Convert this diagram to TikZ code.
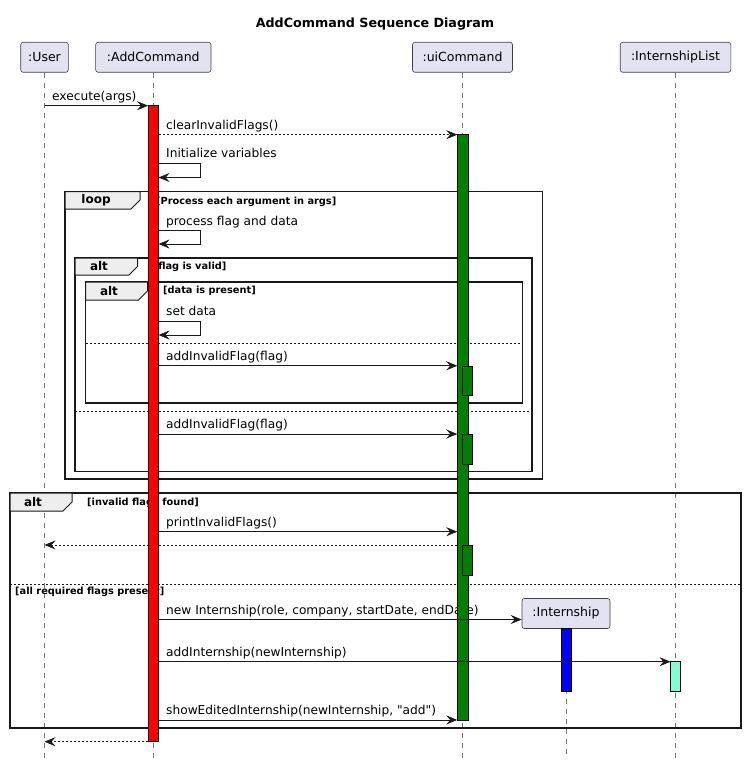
\documentclass[tikz,border=0pt]{standalone}
\usepackage{fontspec}
\setmainfont{DejaVu Sans}
\usetikzlibrary{arrows.meta,backgrounds}

\definecolor{partfill}{HTML}{E2E2F0}
\definecolor{tabfill}{HTML}{EEEEEE}
\definecolor{actgreen}{HTML}{008000}
\definecolor{actaqua}{HTML}{7FFFD4}

\tikzset{
	part/.style={draw=black!75, fill=partfill, rounded corners=2.5pt, line width=0.6pt, inner sep=0pt, minimum height=30pt, font=\fontsize{12.5}{15}\selectfont},
	bar/.style={draw=black, line width=0.5pt, inner sep=0pt, outer sep=0pt, minimum width=10.5pt},
	life/.style={draw=black!55, line width=0.6pt, dash pattern=on 5pt off 5pt},
	msg/.style={draw=black!90, line width=0.6pt, -{Stealth[length=11pt,width=9pt,inset=4pt]}},
	ret/.style={msg, dash pattern=on 2pt off 2pt},
	lbl/.style={anchor=base west, inner sep=0pt, xshift=7.5pt, yshift=5.5pt, font=\fontsize{12.2}{14}\selectfont},
	frame/.style={draw=black!90, line width=1.4pt},
	tabbox/.style={draw=black!90, fill=tabfill, line width=1pt},
	tablbl/.style={inner sep=0pt, font=\bfseries\fontsize{12}{14}\selectfont},
	guard/.style={anchor=west, inner sep=0pt, font=\bfseries\fontsize{9.8}{12}\selectfont},
	sep/.style={draw=black!90, line width=0.6pt, dash pattern=on 2pt off 2pt}
}

\begin{document}
\begin{tikzpicture}[x=1pt, y=-1pt]
	\useasboundingbox ( 0, 0 ) rectangle ( 747, 765 );

	% заголовок
	\node [font=\bfseries\fontsize{12.7}{15}\selectfont] (title) at ( 375, 24 ) {AddCommand Sequence Diagram};

	% участники
	\node [part, minimum width=47.6] (user) at ( 44.5, 57.3 ) {:User};
	\node [part, minimum width=115.3] (addCmd) at ( 153.3, 57.3 ) {:AddCommand};
	\node [part, minimum width=100] (uiCmd) at ( 462.5, 57.3 ) {:uiCommand};
	\node [part, minimum width=110.6] (intList) at ( 675.5, 57.3 ) {:InternshipList};
	\node [part, minimum width=88] (intern) at ( 566, 613.5 ) {:Internship};

	% активации
	\node [bar, fill=red, minimum height=636] (addBar) at ( 153.3, 423.7 ) {};
	\node [bar, fill=actgreen, minimum height=585.3] (uiBar) at ( 462.5, 427.3 ) {};
	\node [bar, fill=actgreen, minimum width=10, minimum height=29.5] (uiBar2) at ( 467, 380.5 ) {};
	\node [bar, fill=actgreen, minimum width=10, minimum height=30] (uiBar3) at ( 467, 449 ) {};
	\node [bar, fill=actgreen, minimum width=10, minimum height=30.7] (uiBar4) at ( 467, 560.3 ) {};
	\node [bar, fill=blue, minimum width=10, minimum height=63.2] (internBar) at ( 566.5, 660.1 ) {};
	\node [bar, fill=actaqua, minimum width=10, minimum height=30] (listBar) at ( 675.5, 676.7 ) {};

	\begin{scope}[on background layer]
		% линии жизни
		\draw [life] (user.south) -- (user |- 0,758);
		\draw [life] (addCmd.south) -- (addCmd |- 0,758);
		\draw [life] (uiCmd.south) -- (uiCmd |- 0,758);
		\draw [life] (intList.south) -- (intList |- 0,758);
		\draw [life] (intern.south) -- (intern |- 0,758);

		% loop
		\draw [frame] ( 65, 191.5 ) rectangle ( 542.5, 479 );
		\draw [tabbox] ( 65, 191.5 ) -- ( 140, 191.5 ) -- ( 140, 200 ) -- ( 131, 209 ) -- ( 65, 209 ) -- cycle;
		\node [tablbl] (tLoop) at ( 96, 200.5 ) {loop};
		\node [guard] (gLoop) at ( 156, 201.5 ) {[Process each argument in args]};

		% alt: flag is valid
		\draw [frame] ( 75, 258 ) rectangle ( 532, 471.7 );
		\draw [tabbox] ( 75, 258 ) -- ( 137.5, 258 ) -- ( 137.5, 266.5 ) -- ( 129, 275 ) -- ( 75, 275 ) -- cycle;
		\node [tablbl] (tAltValid) at ( 99, 266.5 ) {alt};
		\node [guard] (gValid) at ( 153.6, 266.5 ) {[flag is valid]};
		\draw [sep] ( 75, 411 ) -- ( 532, 411 );

		% alt: data is present
		\draw [frame] ( 85.5, 282 ) rectangle ( 522.5, 403 );
		\draw [tabbox] ( 85.5, 282 ) -- ( 147.5, 282 ) -- ( 147.5, 291 ) -- ( 138.5, 300 ) -- ( 85.5, 300 ) -- cycle;
		\node [tablbl] (tAltData) at ( 109, 291 ) {alt};
		\node [guard] (gData) at ( 163, 291 ) {[data is present]};
		\draw [sep] ( 85.5, 343 ) -- ( 522.5, 343 );

		% alt: invalid flags found
		\draw [frame] ( 10, 493 ) rectangle ( 741, 728 );
		\draw [tabbox] ( 10, 493 ) -- ( 72, 493 ) -- ( 72, 502 ) -- ( 63, 511 ) -- ( 10, 511 ) -- cycle;
		\node [tablbl] (tAltFlags) at ( 33, 502.5 ) {alt};
		\node [guard] (gInvalid) at ( 87, 502.5 ) {[invalid flags found]};
		\draw [sep] ( 10, 584 ) -- ( 741, 584 );
		\node [guard] (gAll) at ( 15, 591.5 ) {[all required flags present]};

		% подписи сообщений
		\node [lbl] (mExec) at ( 44.5, 105.7 ) {execute(args)};
		\node [lbl] (mClear) at ( 158.5, 134.7 ) {clearInvalidFlags()};
		\node [lbl] (mInit) at ( 158.5, 163 ) {Initialize variables};
		\node [lbl] (mProc) at ( 158.5, 230.5 ) {process flag and data};
		\node [lbl] (mSet) at ( 158.5, 321 ) {set data};
		\node [lbl] (mAdd1) at ( 158.5, 365.7 ) {addInvalidFlag(flag)};
		\node [lbl] (mAdd2) at ( 158.5, 434 ) {addInvalidFlag(flag)};
		\node [lbl] (mPrint) at ( 158.5, 531.7 ) {printInvalidFlags()};
		\node [lbl] (mNew) at ( 158.5, 619.5 ) {new Internship(role, company, startDate, endDate)};
		\node [lbl] (mAddInt) at ( 158.5, 661.7 ) {addInternship(newInternship)};
		\node [lbl] (mShow) at ( 158.5, 720 ) {showEditedInternship(newInternship, \textquotedbl add\textquotedbl)};

		\draw [ret] (uiBar.west |- uiBar4.north) -- (user |- uiBar4.north);
	\end{scope}

	% сообщения
	\draw [msg] (user |- addBar.north) -- (addBar.north west);
	\draw [ret] (addBar.north east |- uiBar.north) -- (uiBar.north west);
	\draw [msg] (addBar.east |- 0,163) -- ++( 42, 0 ) -- ++( 0, 14.5 ) -- (addBar.east |- 0,177.5);
	\draw [msg] (addBar.east |- 0,230.5) -- ++( 42, 0 ) -- ++( 0, 13.5 ) -- (addBar.east |- 0,244);
	\draw [msg] (addBar.east |- 0,321) -- ++( 42, 0 ) -- ++( 0, 14 ) -- (addBar.east |- 0,335);
	\draw [msg] (addBar.east |- uiBar2.north) -- (uiBar.west |- uiBar2.north);
	\draw [msg] (addBar.east |- uiBar3.north) -- (uiBar.west |- uiBar3.north);
	\draw [msg] (addBar.east |- 0,531.7) -- (uiBar.west |- 0,531.7);
	\draw [msg] (addBar.east |- 0,619.5) -- (intern.west |- 0,619.5);
	\draw [msg] (addBar.east |- listBar.north) -- (listBar.north west);
	\draw [msg] (addBar.east |- uiBar.south) -- (uiBar.south west);
	\draw [ret] (addBar.south west) -- (user |- addBar.south);
\end{tikzpicture}
\end{document}
